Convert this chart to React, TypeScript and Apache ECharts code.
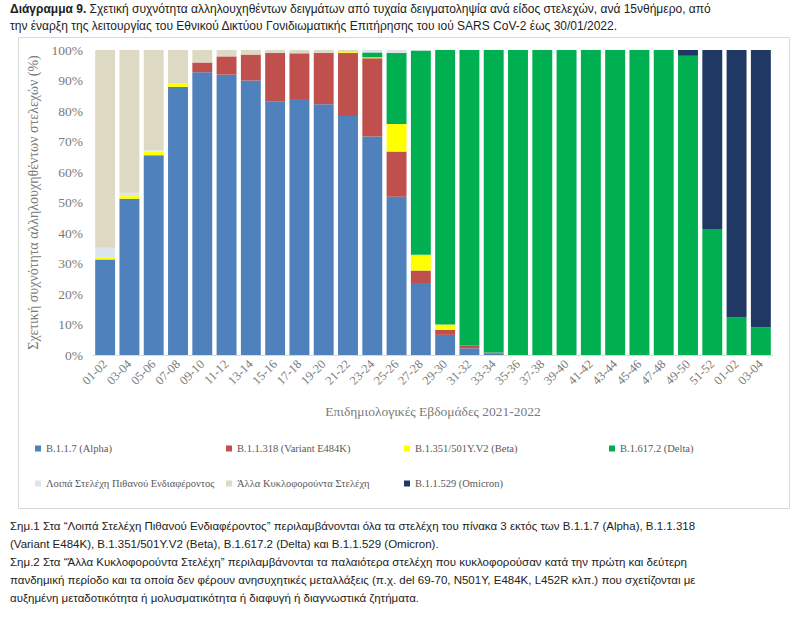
import React, { useEffect, useRef } from "react";
import * as echarts from "echarts";

const categories = [
  "01-02", "03-04", "05-06", "07-08", "09-10", "11-12", "13-14", "15-16", "17-18", "19-20",
  "21-22", "23-24", "25-26", "27-28", "29-30", "31-32", "33-34", "35-36", "37-38", "39-40",
  "41-42", "43-44", "45-46", "47-48", "49-50", "51-52", "01-02", "03-04",
];

const alpha = [31.3, 51.2, 65.5, 87.9, 92.7, 91.9, 90.0, 83.0, 83.9, 82.2, 78.4, 71.6, 51.9, 23.6, 6.6, 2.2, 0.4, 0, 0, 0, 0, 0, 0, 0, 0, 0, 0, 0];
const variantE484K = [0, 0, 0, 0, 3.2, 6.0, 8.5, 16.0, 15.0, 16.8, 20.6, 25.7, 14.8, 4.1, 1.6, 0.8, 0.4, 0, 0, 0, 0, 0, 0, 0, 0, 0, 0, 0];
const beta = [0.6, 0.9, 1.2, 1.1, 0, 0, 0, 0, 0, 0, 0.3, 0.3, 9.0, 5.2, 1.8, 0, 0, 0, 0, 0, 0, 0, 0, 0, 0, 0, 0, 0];
const delta = [0, 0, 0, 0, 0, 0, 0, 0, 0, 0, 0, 1.6, 23.3, 66.9, 90.0, 97.0, 99.2, 100, 100, 100, 100, 100, 100, 100, 98.1, 41.3, 12.3, 9.1];
const otherInterest = [3.3, 1.1, 0.4, 0, 0, 0, 0, 0, 0, 0, 0, 0.8, 1.0, 0.2, 0, 0, 0, 0, 0, 0, 0, 0, 0, 0, 0, 0, 0, 0];
const otherCirculating = [64.8, 46.8, 32.9, 11.0, 4.1, 2.1, 1.5, 1.0, 1.1, 1.0, 0.7, 0, 0, 0, 0, 0, 0, 0, 0, 0, 0, 0, 0, 0, 0, 0, 0, 0];
const omicron = [0, 0, 0, 0, 0, 0, 0, 0, 0, 0, 0, 0, 0, 0, 0, 0, 0, 0, 0, 0, 0, 0, 0, 0, 1.9, 58.7, 87.7, 90.9];

const seriesNames = [
  "B.1.1.7 (Alpha)",
  "B.1.1.318 (Variant E484K)",
  "B.1.351/501Y.V2 (Beta)",
  "B.1.617.2 (Delta)",
  "Λοιπά Στελέχη Πιθανού Ενδιαφέροντος",
  "Άλλα Κυκλοφορούντα Στελέχη",
  "B.1.1.529 (Omicron)",
];
const seriesData = [alpha, variantE484K, beta, delta, otherInterest, otherCirculating, omicron];
const seriesColors = ["#4F81BD", "#C0504D", "#FFFF00", "#00B050", "#DCE4EE", "#DDD9C3", "#1F3864"];

const titleBold = "Διάγραμμα 9.";
const titleLine1 = " Σχετική συχνότητα αλληλουχηθέντων δειγμάτων από τυχαία δειγματοληψία ανά είδος στελεχών, ανά 15νθήμερο, από";
const titleLine2 = "την έναρξη της λειτουργίας του Εθνικού Δικτύου Γονιδιωματικής Επιτήρησης του ιού SARS CoV-2 έως 30/01/2022.";
const yAxisTitle = "Σχετική συχνότητα αλληλουχηθέντων στελεχών (%)";
const xAxisTitle = "Επιδημιολογικές Εβδομάδες 2021-2022";
const notes = [
  "Σημ.1 Στα “Λοιπά Στελέχη Πιθανού Ενδιαφέροντος” περιλαμβάνονται όλα τα στελέχη του πίνακα 3 εκτός των B.1.1.7 (Alpha), B.1.1.318",
  "(Variant E484K), B.1.351/501Y.V2 (Beta), B.1.617.2 (Delta) και B.1.1.529 (Omicron).",
  "Σημ.2 Στα “Άλλα Κυκλοφορούντα Στελέχη” περιλαμβάνονται τα παλαιότερα στελέχη που κυκλοφορούσαν κατά την πρώτη και δεύτερη",
  "πανδημική περίοδο και τα οποία δεν φέρουν ανησυχητικές μεταλλάξεις (π.χ. del 69-70, N501Y, E484K, L452R κλπ.) που σχετίζονται με",
  "αυξημένη μεταδοτικότητα ή μολυσματικότητα ή διαφυγή ή διαγνωστικά ζητήματα.",
];

const SANS = "'Liberation Sans', Arial, sans-serif";
const SERIF = "'Liberation Serif', 'DejaVu Serif', serif";
const AXIS_GRAY = "#7A7A7A";

export default function App() {
  const ref = useRef<HTMLDivElement>(null);
  useEffect(() => {
    if (!ref.current) return;
    const chart = echarts.init(ref.current, null, { renderer: "svg" });
    const legendText = { fontFamily: SERIF, fontSize: 10.5, color: "#595959" };
    const legendCommon = {
      orient: "vertical" as const,
      itemWidth: 6,
      itemHeight: 6,
      itemGap: 24,
      icon: "rect",
      textStyle: legendText,
      selectedMode: false,
    };
    chart.setOption({
      animation: false,
      backgroundColor: "#ffffff",
      grid: { left: 93, right: 27, top: 50, bottom: 269, containLabel: false },
      xAxis: {
        type: "category",
        data: categories,
        name: xAxisTitle,
        nameLocation: "middle",
        nameGap: 49,
        nameTextStyle: { fontFamily: SERIF, fontSize: 13.5, color: AXIS_GRAY },
        axisLine: { show: true, lineStyle: { color: "#D9D9D9" } },
        axisTick: { show: false },
        axisLabel: { rotate: 45, fontFamily: SERIF, fontSize: 12.5, color: AXIS_GRAY, margin: 7, interval: 0 },
      },
      yAxis: {
        type: "value",
        min: 0,
        max: 100,
        interval: 10,
        name: yAxisTitle,
        nameLocation: "middle",
        nameGap: 52,
        nameTextStyle: { fontFamily: SERIF, fontSize: 14, color: AXIS_GRAY },
        axisLabel: { formatter: "{value}%", fontFamily: SERIF, fontSize: 13.5, color: AXIS_GRAY, margin: 10 },
        splitLine: { show: false },
        axisLine: { show: false },
        axisTick: { show: false },
      },
      legend: [
        { ...legendCommon, left: 30, top: 438, data: [seriesNames[0], seriesNames[4]] },
        { ...legendCommon, left: 221, top: 438, data: [seriesNames[1], seriesNames[5]] },
        { ...legendCommon, left: 399, top: 438, data: [seriesNames[2], seriesNames[6]] },
        { ...legendCommon, left: 604, top: 438, data: [seriesNames[3]] },
      ],
      series: seriesNames.map((name, i) => ({
        name,
        type: "bar",
        stack: "total",
        data: seriesData[i],
        barCategoryGap: "18%",
        itemStyle: { color: seriesColors[i] },
      })),
      graphic: [
        {
          type: "text",
          left: 10,
          top: 3,
          style: {
            text: "{b|" + titleBold + "}" + titleLine1,
            fontFamily: SANS,
            fontSize: 12,
            fill: "#222",
            rich: { b: { fontWeight: "bold", fontFamily: SANS, fontSize: 12, fill: "#222" } },
          },
        },
        {
          type: "text",
          left: 10,
          top: 20,
          style: { text: titleLine2, fontFamily: SANS, fontSize: 12, fill: "#222" },
        },
        {
          type: "rect",
          shape: { x: 18.5, y: 37.5, width: 771, height: 471 },
          style: { fill: "none", stroke: "#D9D9D9", lineWidth: 1 },
          silent: true,
        },
        ...notes.map((t, i) => ({
          type: "text",
          left: 10,
          top: 520 + i * 18,
          style: { text: t, fontFamily: SANS, fontSize: 11.5, fill: "#222" },
        })),
      ],
    });
    return () => chart.dispose();
  }, []);
  return (
    <div
      ref={ref}
      style={{ position: "fixed", left: 0, top: 0, width: 800, height: 624 }}
    />
  );
}
